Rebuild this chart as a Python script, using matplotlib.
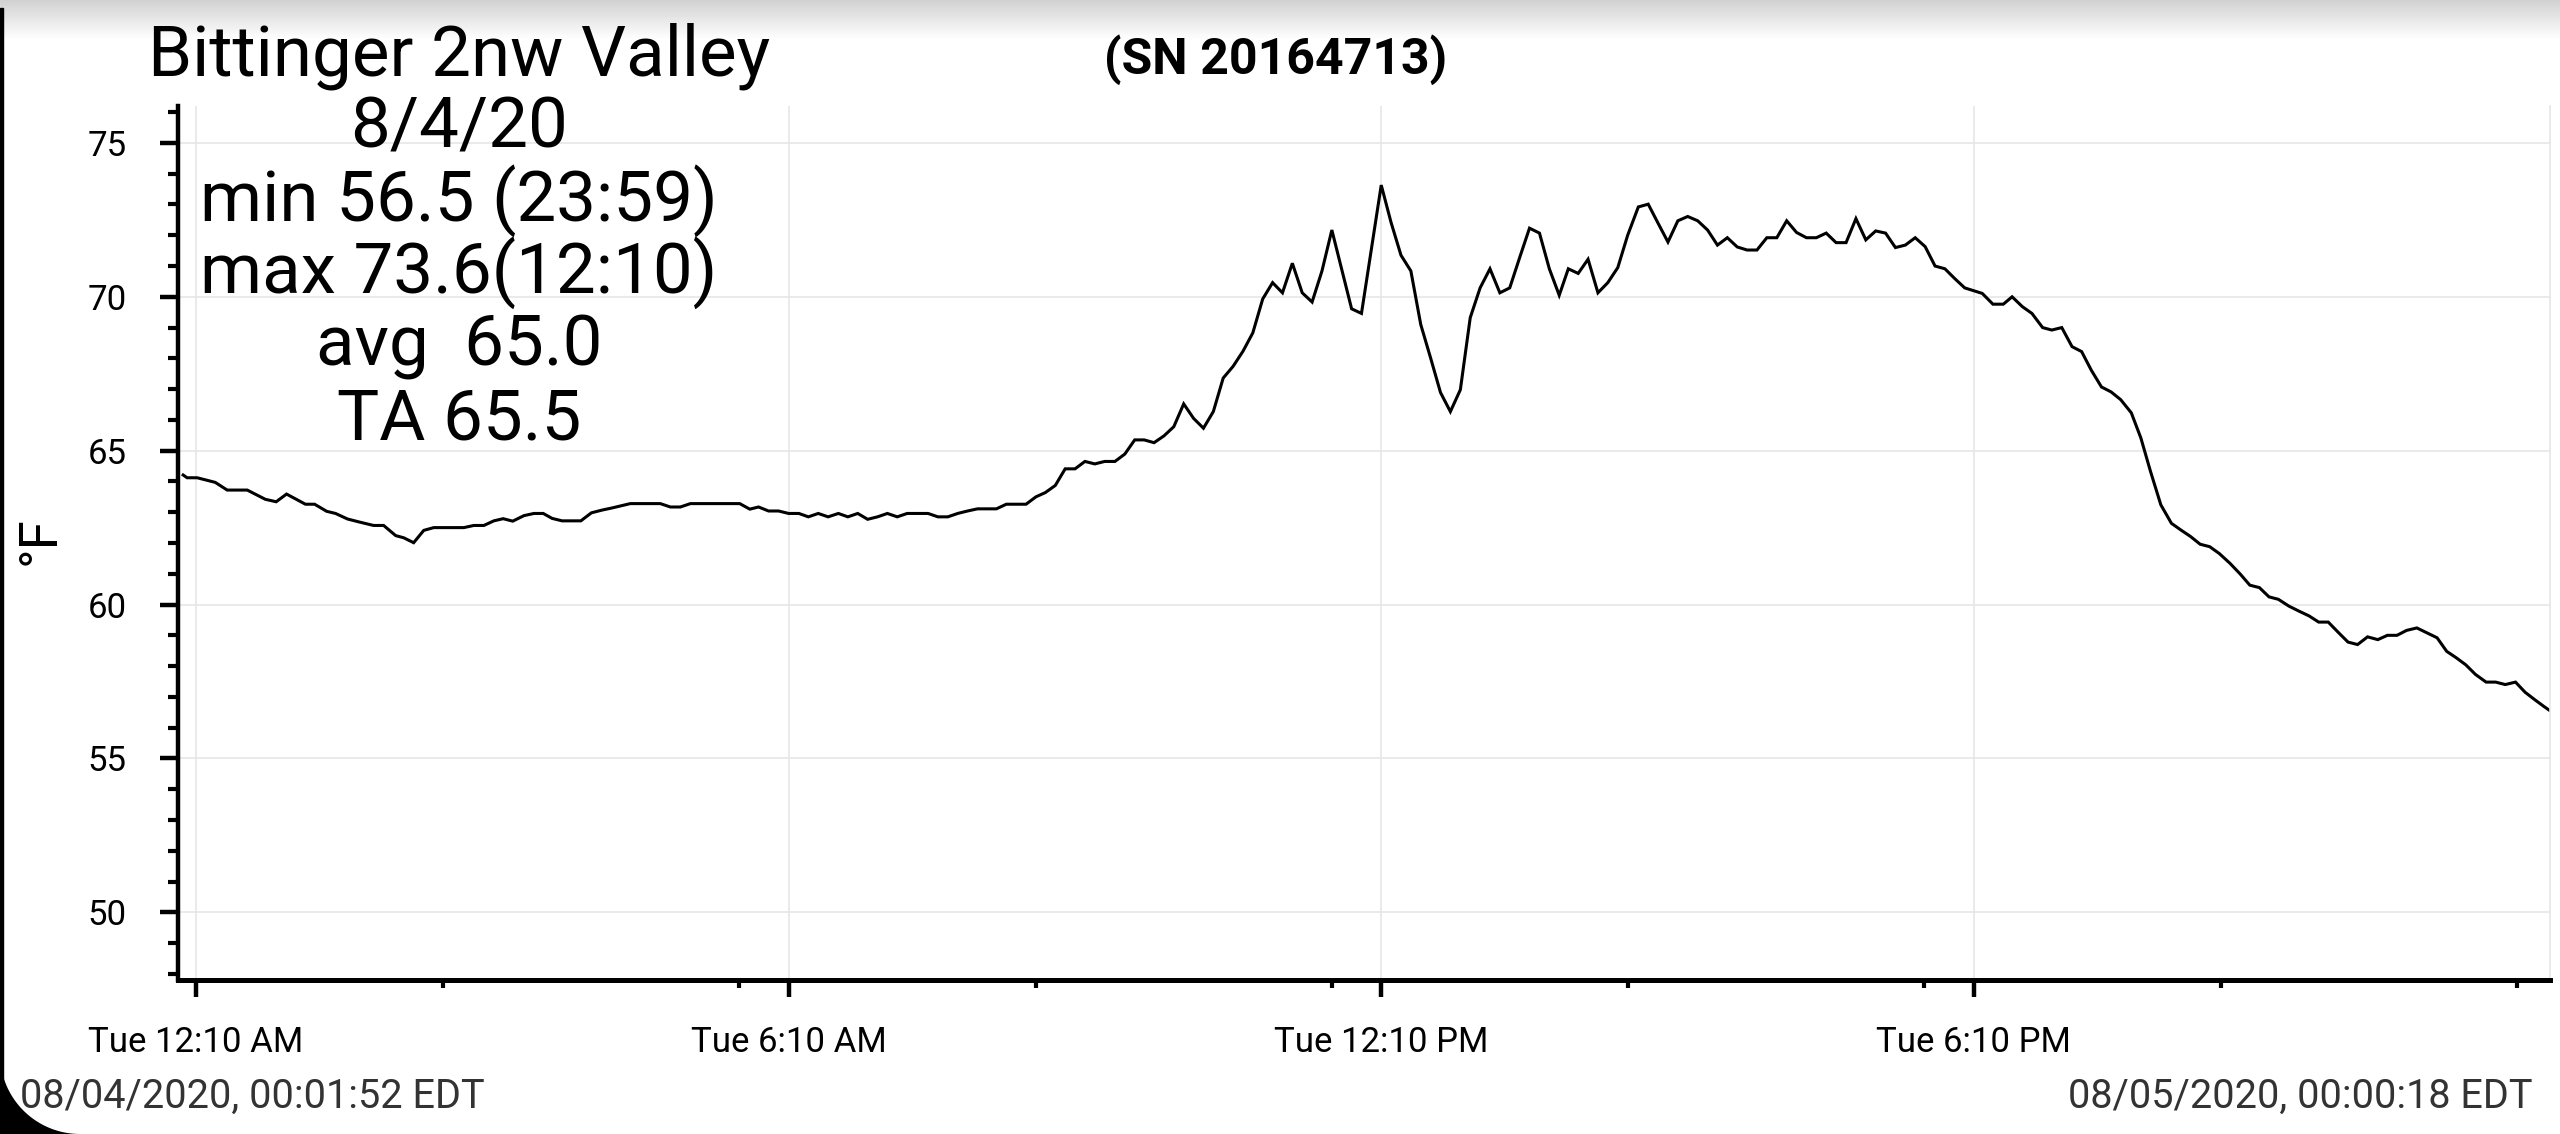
import matplotlib
matplotlib.use("Agg")
import matplotlib.pyplot as plt
import numpy as np
from matplotlib.patches import Rectangle, PathPatch
from matplotlib.path import Path

plt.rcParams['font.family'] = ['Roboto', 'DejaVu Sans']

# ---------------- data ----------------
hours = [
    0.037, 0.077, 0.179, 0.362, 0.483, 0.686, 0.869, 0.979, 1.084, 1.275,
    1.368, 1.490, 1.580, 1.701, 1.823, 1.965, 2.067, 2.189, 2.270, 2.371,
    2.473, 2.574, 2.879, 2.980, 3.082, 3.183, 3.277, 3.374, 3.488, 3.589,
    3.683, 3.772, 3.873, 4.064, 4.170, 4.279, 4.381, 4.564, 4.868, 4.970,
    5.071, 5.173, 5.672, 5.774, 5.863, 5.964, 6.066,
    6.167, 6.271, 6.367, 6.467, 6.567, 6.671, 6.767, 6.867, 6.967, 7.067,
    7.167, 7.267, 7.367, 7.579, 7.679, 7.779, 7.879, 7.979, 8.079, 8.271,
    8.371, 8.571, 8.671, 8.767, 8.867, 8.967, 9.067, 9.167, 9.267, 9.367,
    9.471, 9.571, 9.671, 9.767, 9.867, 9.967, 10.067, 10.167, 10.267, 10.367,
    10.467, 10.567, 10.667, 10.767, 10.867, 10.967, 11.067, 11.167, 11.267, 11.367,
    11.467, 11.567, 11.667, 11.867, 11.967, 12.067, 12.167,
    12.267, 12.367, 12.467, 12.567, 12.667, 12.767, 12.867, 12.968, 13.068, 13.168,
    13.268, 13.368, 13.468, 13.568, 13.668, 13.769, 13.869, 13.969, 14.061, 14.161,
    14.261, 14.361, 14.461, 14.562, 14.662, 14.770, 14.870, 14.970, 15.070, 15.170,
    15.270, 15.371, 15.471, 15.571, 15.671, 15.771, 15.871, 15.971, 16.071, 16.172,
    16.272, 16.372, 16.472, 16.572, 16.672, 16.772, 16.873, 16.973, 17.073, 17.173,
    17.273, 17.373, 17.473, 17.573, 17.674, 17.774, 17.874, 17.974, 18.074,
    18.252, 18.360, 18.465, 18.554, 18.658, 18.755, 18.863, 18.956, 19.057, 19.161,
    19.258, 19.355, 19.459, 19.556, 19.653, 19.761, 19.858, 19.955, 20.060, 20.167,
    20.264, 20.361, 20.458, 20.555, 20.651, 20.760, 20.864, 20.961, 21.058, 21.155,
    21.250, 21.356, 21.456, 21.561, 21.658, 21.755, 21.852, 21.955, 22.052, 22.153,
    22.257, 22.354, 22.451, 22.548, 22.652, 22.749, 22.857, 22.954, 23.051, 23.148,
    23.245, 23.353, 23.450, 23.547, 23.651, 23.748, 23.845, 23.942, 24.000,
]
temps = [
    64.21, 64.12, 64.12, 63.97, 63.72, 63.72, 63.42, 63.34, 63.59, 63.26,
    63.26, 63.03, 62.96, 62.78, 62.68, 62.57, 62.57, 62.24, 62.17, 62.01,
    62.41, 62.50, 62.50, 62.57, 62.57, 62.72, 62.79, 62.71, 62.89, 62.96,
    62.96, 62.80, 62.72, 62.72, 62.98, 63.07, 63.14, 63.28, 63.28, 63.17,
    63.17, 63.28, 63.28, 63.10, 63.17, 63.04, 63.04,
    62.96, 62.96, 62.85, 62.96, 62.85, 62.96, 62.85, 62.96, 62.77, 62.85,
    62.96, 62.85, 62.96, 62.96, 62.85, 62.85, 62.96, 63.04, 63.11, 63.11,
    63.26, 63.26, 63.50, 63.64, 63.87, 64.41, 64.41, 64.65, 64.57, 64.65,
    64.65, 64.89, 65.35, 65.35, 65.26, 65.48, 65.78, 66.52, 66.05, 65.73,
    66.27, 67.36, 67.74, 68.23, 68.83, 69.93, 70.46, 70.13, 71.09, 70.13,
    69.83, 70.84, 72.17, 69.61, 69.46, 71.54, 73.63,
    72.41, 71.35, 70.84, 69.10, 68.01, 66.89, 66.27, 66.98, 69.32, 70.29,
    70.91, 70.13, 70.29, 71.27, 72.23, 72.07, 70.91, 70.05, 70.91, 70.76,
    71.22, 70.13, 70.46, 70.95, 72.00, 72.92, 73.01, 72.39, 71.78, 72.47,
    72.61, 72.47, 72.17, 71.68, 71.92, 71.62, 71.52, 71.52, 71.92, 71.92,
    72.47, 72.09, 71.92, 71.92, 72.07, 71.76, 71.76, 72.54, 71.85, 72.14,
    72.07, 71.60, 71.68, 71.92, 71.63, 71.00, 70.91, 70.59, 70.29,
    70.11, 69.76, 69.76, 70.00, 69.68, 69.46, 69.00, 68.92, 69.00, 68.38,
    68.22, 67.62, 67.07, 66.91, 66.66, 66.23, 65.41, 64.33, 63.24, 62.64,
    62.42, 62.21, 61.96, 61.88, 61.66, 61.34, 60.99, 60.63, 60.55, 60.25,
    60.17, 59.95, 59.79, 59.63, 59.43, 59.43, 59.11, 58.78, 58.70, 58.95,
    58.86, 59.00, 59.00, 59.16, 59.24, 59.09, 58.92, 58.48, 58.27, 58.04,
    57.73, 57.48, 57.48, 57.40, 57.48, 57.15, 56.91, 56.68, 56.55,
]

x_major_hours = [0.1667, 6.1667, 12.1667, 18.1667]
x_major_labels = ["Tue 12:10 AM", "Tue 6:10 AM", "Tue 12:10 PM", "Tue 6:10 PM"]
x_minor_hours = [2.6667, 5.6667, 8.6667, 11.6667, 14.6667, 17.6667, 20.6667, 23.6667]
y_major = [50, 55, 60, 65, 70, 75]
y_minor = list(range(48, 77))

title_lines = ["Bittinger 2nw Valley", "8/4/20", "min 56.5 (23:59)",
               "max 73.6(12:10)", "avg  65.0", "TA 65.5"]
serial_text = "(SN 20164713)"
start_text = "08/04/2020, 00:01:52 EDT"
end_text = "08/05/2020, 00:00:18 EDT"
y_label = "°F"

# ---------------- figure ----------------
W, H = 2560, 1134
fig = plt.figure(figsize=(W / 100, H / 100), dpi=100)
fig.patch.set_facecolor('white')

ax = fig.add_axes([178 / W, (H - 980) / H, (2550 - 178) / W, (980 - 106) / H])
ax.plot(hours, temps, color='black', lw=2.2, solid_joinstyle='miter')
ax.set_xlim(-0.015, 24.0)
ax.set_ylim(47.8, 76.2)

ax.set_xticks(x_major_hours, x_major_labels)
ax.set_xticks(x_minor_hours, minor=True)
ax.set_yticks(y_major)
ax.set_yticks(y_minor, minor=True)

ax.grid(True, which='major', color='#e6e6e6', lw=1.2)
ax.set_axisbelow(True)

ax.spines['top'].set_visible(False)
ax.spines['right'].set_color('#e6e6e6')
ax.spines['right'].set_linewidth(1.2)
ax.spines['left'].set_linewidth(3.2)
ax.spines['bottom'].set_linewidth(3.6)

ax.tick_params(axis='y', which='major', length=13, width=3.2, pad=24,
               labelsize=25, colors='black')
ax.tick_params(axis='y', which='minor', length=7, width=3.0)
ax.tick_params(axis='x', which='major', length=12, width=3.2, pad=21,
               labelsize=25, colors='black')
ax.tick_params(axis='x', which='minor', length=6, width=3.0)

# title block
cx = 459 / W
baselines = [75, 148, 221, 293, 366, 440]
for line, b in zip(title_lines, baselines):
    fig.text(cx, 1 - b / H, line, ha='center', va='baseline', fontsize=51,
             color='black')

fig.text(1276 / W, 1 - 74 / H, serial_text, ha='center', va='baseline',
         fontsize=36, fontweight='bold', color='black')

fig.text(40 / W, 1 - 541 / H, y_label, ha='center', va='center', rotation=90,
         fontsize=38, color='black')

fig.text(20 / W, 1 - 1108 / H, start_text, ha='left', va='baseline',
         fontsize=28.5, color='#333333')
fig.text(2533 / W, 1 - 1108 / H, end_text, ha='right', va='baseline',
         fontsize=28.5, color='#333333')

# screenshot decorations: top shadow, left edge, rounded corner
gax = fig.add_axes([0, 1 - 40 / H, 1, 40 / H])
grad = np.linspace(0.82, 1.0, 40).reshape(-1, 1)
gax.imshow(grad, aspect='auto', cmap='gray', vmin=0, vmax=1,
           extent=[0, 1, 0, 1])
gax.set_axis_off()

fig.patches.append(Rectangle((0, 0), 2.5 / W, 1 - 8 / H, transform=fig.transFigure,
                             color='black', zorder=10))
r = 80
theta = np.linspace(np.pi, 1.5 * np.pi, 40)
arc_x = r + r * np.cos(theta)
arc_y = r + r * np.sin(theta)
verts = [(0, 0)] + list(zip(arc_x, arc_y)) + [(0, 0)]
verts = [(vx / W, vy / H) for vx, vy in verts]
path = Path(verts)
fig.patches.append(PathPatch(path, transform=fig.transFigure, facecolor='black',
                             edgecolor='none', zorder=10))

fig.savefig('out.png', dpi=100)
